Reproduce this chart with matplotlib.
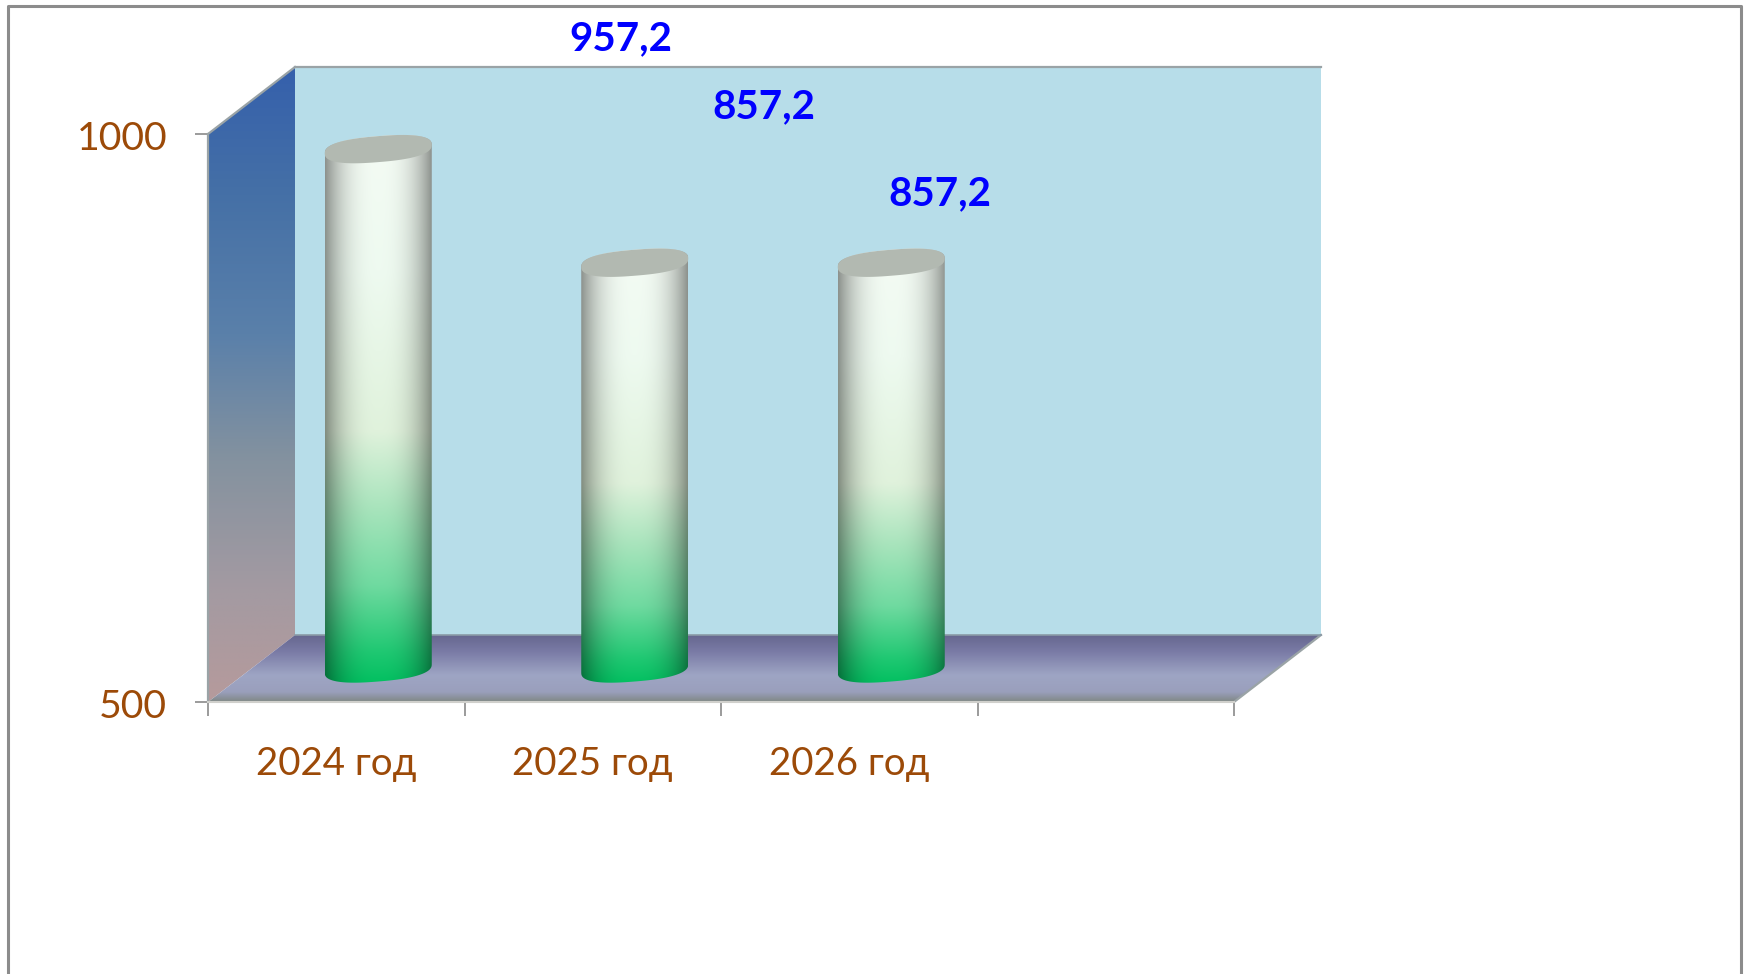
#!/usr/bin/env python3
import numpy as np
import matplotlib; matplotlib.use("Agg")
import matplotlib.pyplot as plt
from matplotlib.lines import Line2D
from matplotlib.patches import Polygon
from matplotlib.transforms import ScaledTranslation

plt.rcParams['font.family'] = ['Lato', 'DejaVu Sans']

# data
CATEGORIES = ["2024 год", "2025 год", "2026 год"]
VALUES = [957.2, 857.2, 857.2]
LABELS = ["957,2", "857,2", "857,2"]
Y_TICKS = [500, 1000]
N_SLOTS = 4      # the value axis leaves one empty slot on the right

# style
W, H = 1748, 974
BROWN = "#9c4a08"
BLUE = "#0000ff"
AXIS_GRAY = "#8a8a8a"
LABEL_OFFSETS = [(241, 110), (128, 156), (47, 69)]   # px, from top of the bar

# 3d box geometry, px converted to data units below
LEFT, RIGHT, TOP, BOTTOM = 208, 1234, 134, 702
DX = 87 * N_SLOTS / (RIGHT - LEFT)
DY = 67 * (Y_TICKS[1] - Y_TICKS[0]) / (BOTTOM - TOP)
PX_X = N_SLOTS / (RIGHT - LEFT)
PX_Y = (Y_TICKS[1] - Y_TICKS[0]) / (BOTTOM - TOP)


def stops(colors, n=256):
    """colors: list of (pos, hex) -> n x 3 array"""
    pos = [c[0] for c in colors]
    rgb = np.array([matplotlib.colors.to_rgb(c[1]) for c in colors])
    t = np.linspace(0, 1, n)
    return np.stack([np.interp(t, pos, rgb[:, i]) for i in range(3)], axis=1)


def gradient(ax, fig, img, extent, clip_xy, z):
    im = ax.imshow(img, extent=extent, aspect="auto", origin="upper",
                   zorder=z, interpolation="bilinear")
    # images stop at the axes box unless told otherwise
    im.set_clip_box(fig.bbox)
    im.set_clip_path(Polygon(clip_xy, closed=True, transform=ax.transData))
    return im


def rounded(t):
    # a bit blunter than a true ellipse, like the cylinder caps in the chart
    return np.sign(np.cos(t)) * np.abs(np.cos(t)) ** 0.8, np.abs(np.sin(t)) ** 0.8 * np.sign(np.sin(t))


def cylinder(ax, fig, i, v, z):
    cx = i + 0.5 + DX / 2 - 1.5 * PX_X
    y_top = v + DY / 2
    y_bot = Y_TICKS[0] + DY / 2
    a = 53.5 * PX_X
    b = 13 * PX_Y
    tilt = 0.08 * 53.5 * PX_Y      # ellipses lean up to the right

    t = np.linspace(0, np.pi, 60)
    c, s = rounded(t)
    upper = np.c_[cx + a * c, y_top + b * s + tilt * c]
    lower = np.c_[cx - a * c, y_bot - b * s - tilt * c]
    body = np.r_[upper, lower]

    col = stops([(0, "#f4fbf4"), (0.25, "#eefaf0"), (0.54, "#e0f2dc"),
                 (0.68, "#a8e4bc"), (0.82, "#6fdaa0"), (0.94, "#1fc872"),
                 (1, "#00bf5f")])
    u = np.linspace(-1, 1, 200)
    shade = 1 - 0.42 * np.abs(u) ** 2.6
    img = col[:, None, :] * shade[None, :, None]
    ext = (cx - a, cx + a, y_bot - b - tilt, y_top + b + tilt)
    gradient(ax, fig, np.clip(img, 0, 1), ext, body, z)

    t2 = np.linspace(0, 2 * np.pi, 120)
    c, s = rounded(t2)
    cap = np.c_[cx + a * c, y_top + b * s + tilt * c]
    ax.add_patch(Polygon(cap, closed=True, fc="#b2b9b1", ec="none", zorder=z + 0.1,
                         clip_on=False))


def main():
    fig = plt.figure(figsize=(W / 100, H / 100), dpi=100, facecolor="white")
    ax = fig.add_axes([LEFT / W, 1 - BOTTOM / H, (RIGHT - LEFT) / W, (BOTTOM - TOP) / H])
    ax.patch.set_alpha(0)
    for s in ax.spines.values():
        s.set_visible(False)

    y0, y1 = Y_TICKS
    # back wall
    back = [(DX, y0 + DY), (N_SLOTS + DX, y0 + DY), (N_SLOTS + DX, y1 + DY), (DX, y1 + DY)]
    ax.add_patch(Polygon(back, closed=True, fc="#b7dde9", ec="none", zorder=1, clip_on=False))

    # left wall
    wall = [(0, y0), (DX, y0 + DY), (DX, y1 + DY), (0, y1)]
    img = stops([(0, "#3560ac"), (0.2, "#4570a6"), (0.42, "#5a80aa"), (0.62, "#84929f"),
                 (0.82, "#a39aa2"), (1, "#b69a9c")])[:, None, :]
    gradient(ax, fig, img, (0, DX, y0, y1 + DY), wall, 2)

    # floor
    floor = [(0, y0), (N_SLOTS, y0), (N_SLOTS + DX, y0 + DY), (DX, y0 + DY)]
    img = stops([(0, "#66678f"), (0.25, "#7a7ba6"), (0.6, "#9ea5c4"), (0.85, "#9a9fbc"),
                 (1, "#7f8784")])[:, None, :]
    gradient(ax, fig, img, (0, N_SLOTS + DX, y0, y0 + DY), floor, 2)

    # box edges
    edge = dict(color="#9aa3a6", lw=1.6, zorder=3, clip_on=False)
    ax.plot([DX, N_SLOTS + DX], [y1 + DY, y1 + DY], **edge)
    ax.plot([0, DX], [y1, y1 + DY], **edge)
    ax.plot([0, 0], [y0, y1], **edge)
    ax.plot([N_SLOTS, N_SLOTS + DX], [y0, y0 + DY], **edge)
    ax.plot([DX, N_SLOTS + DX], [y0 + DY, y0 + DY], color="#8a9aa6", lw=1.2, zorder=3, clip_on=False)
    ax.plot([0, N_SLOTS], [y0, y0], color="#d0d0cc", lw=1.5, zorder=3, clip_on=False)

    for i, v in enumerate(VALUES):
        cylinder(ax, fig, i, v, 4 + i)

    for i, (v, lab, off) in enumerate(zip(VALUES, LABELS, LABEL_OFFSETS)):
        ax.annotate(lab, (i + 0.5 + DX / 2, v + DY / 2), xytext=off, textcoords="offset pixels",
                    ha="center", va="center", fontsize=29, fontweight="bold",
                    color=BLUE, zorder=10, annotation_clip=False)

    ax.set_xlim(0, N_SLOTS)
    ax.set_ylim(y0, y1)
    ax.set_yticks(Y_TICKS)
    ax.set_xticks(np.arange(N_SLOTS + 1))
    ax.set_xticklabels([])
    ax.set_xticks(np.arange(len(CATEGORIES)) + 0.5, minor=True)
    ax.set_xticklabels(CATEGORIES, minor=True)
    ax.tick_params(axis="y", length=9.4, width=1.2, color=AXIS_GRAY, pad=20,
                   labelsize=28.3, labelcolor=BROWN)
    ax.tick_params(axis="x", which="major", length=10, width=1.2, color=AXIS_GRAY)
    ax.tick_params(axis="x", which="minor", length=0, pad=32, labelsize=27.7, labelcolor=BROWN)

    # nudge y labels down a little
    down = ScaledTranslation(0, -1.0 / 72, fig.dpi_scale_trans)
    for lab in ax.get_yticklabels():
        lab.set_transform(lab.get_transform() + down)

    # outer frame, open at the bottom
    fx = np.array([8, 8, 1741, 1741]) / W
    fy = 1 - np.array([H, 6, 6, H]) / H
    fig.add_artist(Line2D(fx, fy, color="#8c8c8c", lw=2.2))

    fig.savefig("out.png", dpi=100)
    plt.close(fig)


if __name__ == "__main__":
    main()
